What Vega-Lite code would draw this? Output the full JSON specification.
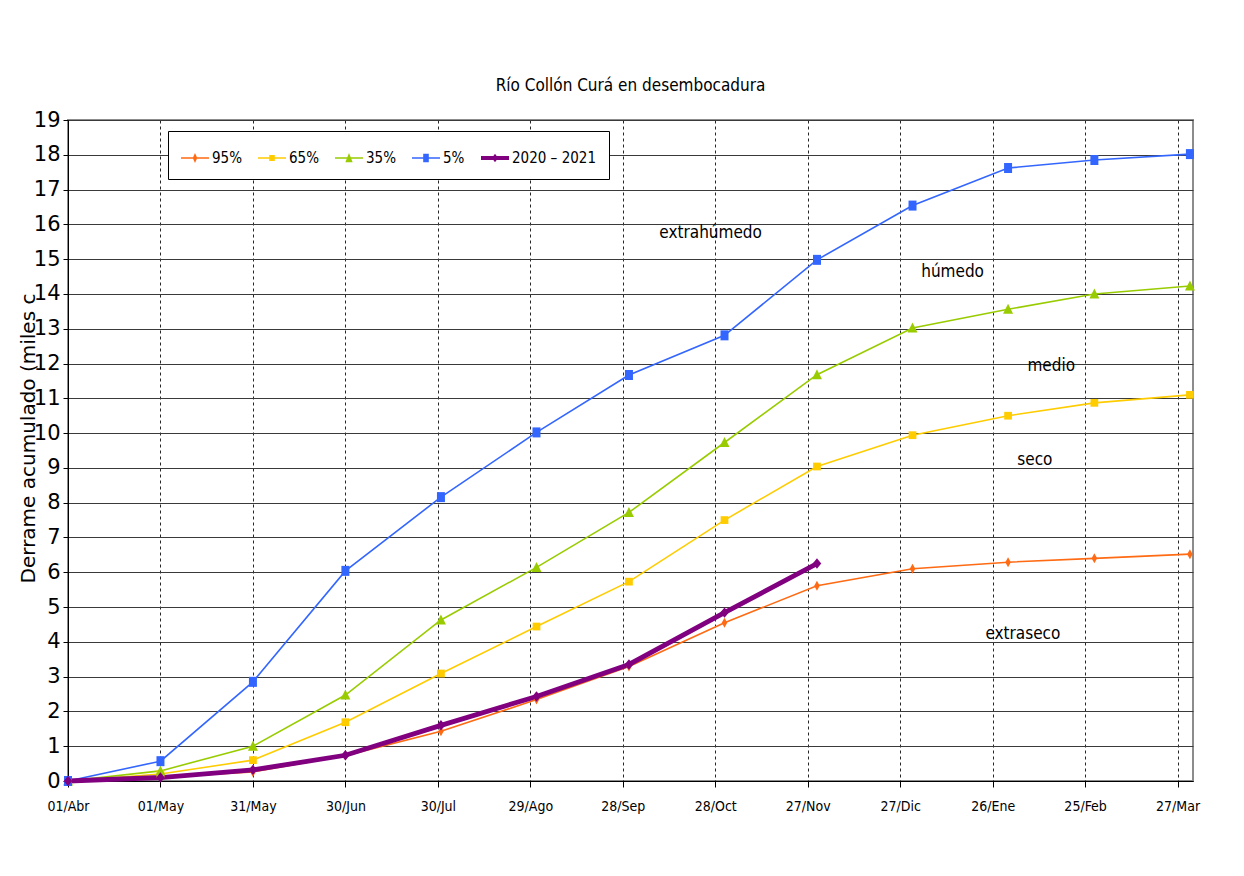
{
  "$schema": "https://vega.github.io/schema/vega-lite/v6.json",
  "width": 1125,
  "height": 661,
  "autosize": {"type": "none"},
  "padding": {"left": 68, "top": 120, "right": 51, "bottom": 95},
  "background": "white",
  "title": {
    "text": "Río Collón Curá en desembocadura",
    "fontSize": 17,
    "font": "DejaVu Sans Condensed, sans-serif",
    "fontWeight": "normal",
    "color": "black",
    "offset": 14,
    "anchor": "middle"
  },
  "config": {
    "view": {"stroke": "#8c8c8c", "strokeWidth": 2},
    "axis": {"domainColor": "black", "tickColor": "black", "labelColor": "black", "titleColor": "black"}
  },
  "datasets": {
    "series": [
      {"serie": "95%", "dia": 0, "valor": 0},
      {"serie": "95%", "dia": 30, "valor": 0.11},
      {"serie": "95%", "dia": 60, "valor": 0.26},
      {"serie": "95%", "dia": 90, "valor": 0.73},
      {"serie": "95%", "dia": 121, "valor": 1.43},
      {"serie": "95%", "dia": 152, "valor": 2.34},
      {"serie": "95%", "dia": 182, "valor": 3.29},
      {"serie": "95%", "dia": 213, "valor": 4.55},
      {"serie": "95%", "dia": 243, "valor": 5.61},
      {"serie": "95%", "dia": 274, "valor": 6.1},
      {"serie": "95%", "dia": 305, "valor": 6.29},
      {"serie": "95%", "dia": 333, "valor": 6.4},
      {"serie": "95%", "dia": 364, "valor": 6.52},
      {"serie": "65%", "dia": 0, "valor": 0},
      {"serie": "65%", "dia": 30, "valor": 0.2},
      {"serie": "65%", "dia": 60, "valor": 0.6},
      {"serie": "65%", "dia": 90, "valor": 1.69},
      {"serie": "65%", "dia": 121, "valor": 3.09},
      {"serie": "65%", "dia": 152, "valor": 4.44},
      {"serie": "65%", "dia": 182, "valor": 5.73},
      {"serie": "65%", "dia": 213, "valor": 7.5},
      {"serie": "65%", "dia": 243, "valor": 9.04},
      {"serie": "65%", "dia": 274, "valor": 9.94},
      {"serie": "65%", "dia": 305, "valor": 10.5},
      {"serie": "65%", "dia": 333, "valor": 10.87},
      {"serie": "65%", "dia": 364, "valor": 11.1},
      {"serie": "35%", "dia": 0, "valor": 0},
      {"serie": "35%", "dia": 30, "valor": 0.29},
      {"serie": "35%", "dia": 60, "valor": 1.0},
      {"serie": "35%", "dia": 90, "valor": 2.47},
      {"serie": "35%", "dia": 121, "valor": 4.63},
      {"serie": "35%", "dia": 152, "valor": 6.14},
      {"serie": "35%", "dia": 182, "valor": 7.72},
      {"serie": "35%", "dia": 213, "valor": 9.73},
      {"serie": "35%", "dia": 243, "valor": 11.68},
      {"serie": "35%", "dia": 274, "valor": 13.02},
      {"serie": "35%", "dia": 305, "valor": 13.56},
      {"serie": "35%", "dia": 333, "valor": 14.0},
      {"serie": "35%", "dia": 364, "valor": 14.23},
      {"serie": "5%", "dia": 0, "valor": 0},
      {"serie": "5%", "dia": 30, "valor": 0.57},
      {"serie": "5%", "dia": 60, "valor": 2.85},
      {"serie": "5%", "dia": 90, "valor": 6.04},
      {"serie": "5%", "dia": 121, "valor": 8.16},
      {"serie": "5%", "dia": 152, "valor": 10.02},
      {"serie": "5%", "dia": 182, "valor": 11.67},
      {"serie": "5%", "dia": 213, "valor": 12.81},
      {"serie": "5%", "dia": 243, "valor": 14.98},
      {"serie": "5%", "dia": 274, "valor": 16.54},
      {"serie": "5%", "dia": 305, "valor": 17.62},
      {"serie": "5%", "dia": 333, "valor": 17.85},
      {"serie": "5%", "dia": 364, "valor": 18.02},
      {"serie": "2020 – 2021", "dia": 0, "valor": 0},
      {"serie": "2020 – 2021", "dia": 30, "valor": 0.1},
      {"serie": "2020 – 2021", "dia": 60, "valor": 0.32},
      {"serie": "2020 – 2021", "dia": 90, "valor": 0.74},
      {"serie": "2020 – 2021", "dia": 121, "valor": 1.6},
      {"serie": "2020 – 2021", "dia": 152, "valor": 2.43},
      {"serie": "2020 – 2021", "dia": 182, "valor": 3.35},
      {"serie": "2020 – 2021", "dia": 213, "valor": 4.84},
      {"serie": "2020 – 2021", "dia": 243, "valor": 6.25}
    ],
    "etiquetas": [
      {"texto": "extrahúmedo", "dia": 208.5, "valor": 15.75},
      {"texto": "húmedo", "dia": 287, "valor": 14.63},
      {"texto": "medio", "dia": 319, "valor": 11.93},
      {"texto": "seco", "dia": 313.7, "valor": 9.23},
      {"texto": "extraseco", "dia": 309.8, "valor": 4.23}
    ]
  },
  "data": {"name": "series"},
  "encoding": {
    "x": {
      "field": "dia",
      "type": "quantitative",
      "scale": {"domain": [0, 365], "nice": false, "zero": false},
      "axis": {
        "values": [0, 30, 60, 90, 120, 150, 180, 210, 240, 270, 300, 330, 360],
        "labelExpr": "['01/Abr','01/May','31/May','30/Jun','30/Jul','29/Ago','28/Sep','28/Oct','27/Nov','27/Dic','26/Ene','25/Feb','27/Mar'][round(datum.value/30)]",
        "grid": true,
        "gridDash": [3, 3],
        "gridColor": "#000000",
        "gridOpacity": 0.85,
        "tickSize": 6,
        "labelFontSize": 14,
        "labelFont": "DejaVu Sans Condensed, sans-serif",
        "labelPadding": 12,
        "labelFlush": false,
        "labelOverlap": false,
        "title": null
      }
    },
    "y": {
      "field": "valor",
      "type": "quantitative",
      "scale": {"domain": [0, 19], "nice": false, "zero": true},
      "axis": {
        "values": [0, 1, 2, 3, 4, 5, 6, 7, 8, 9, 10, 11, 12, 13, 14, 15, 16, 17, 18, 19],
        "grid": true,
        "gridColor": "#3a3a3a",
        "gridWidth": 1,
        "tickSize": 5,
        "labelFontSize": 21,
        "labelFont": "DejaVu Sans, sans-serif",
        "labelPadding": 3,
        "labelOverlap": false,
        "labelFlush": false,
        "title": "Derrame acumulado (miles c",
        "titleFont": "DejaVu Sans, sans-serif",
        "titleFontSize": 20,
        "titleFontWeight": "normal",
        "titleAngle": 270,
        "titleX": -30,
        "titleY": 318,
        "titleAlign": "center",
        "titleBaseline": "bottom"
      }
    }
  },
  "layer": [
    {
      "transform": [{"filter": "false"}],
      "mark": {"type": "point", "filled": true, "opacity": 1},
      "encoding": {
        "color": {
          "field": "serie",
          "type": "nominal",
          "scale": {
            "domain": ["95%", "65%", "35%", "5%", "2020 – 2021"],
            "range": ["#ff6a13", "#ffcc00", "#99cc00", "#3366ff", "#800080"]
          },
          "legend": {
            "title": null,
            "orient": "none",
            "legendX": 100,
            "legendY": 11,
            "direction": "horizontal",
            "fillColor": "white",
            "strokeColor": "black",
            "padding": 13,
            "symbolSize": 784,
            "symbolStrokeWidth": 0,
            "labelFontSize": 15,
            "labelFont": "DejaVu Sans Condensed, sans-serif",
            "labelColor": "black",
            "labelOffset": 3,
            "columnPadding": 16,
            "symbolOpacity": 1
          }
        },
        "shape": {
          "field": "serie",
          "type": "nominal",
          "scale": {
            "domain": ["95%", "65%", "35%", "5%", "2020 – 2021"],
            "range": [
              "M-1,-0.05H1V0.05H-1Z M0,-0.36L0.16,0L0,0.36L-0.16,0Z",
              "M-1,-0.05H1V0.05H-1Z M-0.2,-0.22H0.2V0.22H-0.2Z",
              "M-1,-0.05H1V0.05H-1Z M0,-0.36L0.26,0.3H-0.26Z",
              "M-1,-0.05H1V0.05H-1Z M-0.2,-0.3H0.2V0.3H-0.2Z",
              "M-1,-0.14H1V0.14H-1Z M0,-0.3L0.22,0L0,0.3L-0.22,0Z"
            ]
          }
        }
      }
    },
    {
      "transform": [{"filter": "datum.serie !== '2020 – 2021'"}],
      "mark": {"type": "line", "strokeWidth": 1.6},
      "encoding": {
        "color": {"field": "serie", "type": "nominal", "legend": null},
        "detail": {"field": "serie"}
      }
    },
    {
      "transform": [{"filter": "datum.serie === '2020 – 2021'"}],
      "mark": {"type": "line", "strokeWidth": 4.8},
      "encoding": {
        "color": {"field": "serie", "type": "nominal", "legend": null}
      }
    },
    {
      "transform": [{"filter": "datum.serie === '95%'"}],
      "mark": {"type": "point", "filled": true, "opacity": 1, "shape": "M0,-1L0.55,0L0,1L-0.55,0Z", "size": 100},
      "encoding": {"color": {"field": "serie", "type": "nominal", "legend": null}}
    },
    {
      "transform": [{"filter": "datum.serie === '65%'"}],
      "mark": {"type": "point", "filled": true, "opacity": 1, "shape": "square", "size": 60},
      "encoding": {"color": {"field": "serie", "type": "nominal", "legend": null}}
    },
    {
      "transform": [{"filter": "datum.serie === '35%'"}],
      "mark": {"type": "point", "filled": true, "opacity": 1, "shape": "M0,-1.1L1,0.9H-1Z", "size": 100},
      "encoding": {"color": {"field": "serie", "type": "nominal", "legend": null}}
    },
    {
      "transform": [{"filter": "datum.serie === '5%'"}],
      "mark": {"type": "point", "filled": true, "opacity": 1, "shape": "M-0.8,-1H0.8V1H-0.8Z", "size": 100},
      "encoding": {"color": {"field": "serie", "type": "nominal", "legend": null}}
    },
    {
      "transform": [{"filter": "datum.serie === '2020 – 2021'"}],
      "mark": {"type": "point", "filled": true, "opacity": 1, "shape": "M0,-1.1L0.9,0L0,1.1L-0.9,0Z", "size": 90},
      "encoding": {"color": {"field": "serie", "type": "nominal", "legend": null}}
    },
    {
      "data": {"name": "etiquetas"},
      "mark": {
        "type": "text",
        "font": "DejaVu Sans Condensed, sans-serif",
        "fontSize": 17,
        "color": "black",
        "align": "center",
        "baseline": "middle"
      },
      "encoding": {
        "text": {"field": "texto", "type": "nominal"}
      }
    }
  ]
}
